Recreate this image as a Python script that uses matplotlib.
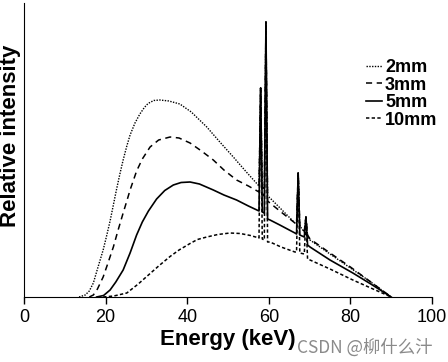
import matplotlib
matplotlib.use('Agg')
import matplotlib.pyplot as plt

plt.rcParams['font.family'] = ['Liberation Sans', 'DejaVu Sans']

# spectra (keV, relative intensity)
e_2mm = [13.5, 15, 16, 17, 18, 19.4, 20.3, 21.1, 22, 22.7, 23.5, 24.3, 25.2, 26, 27.2,
         28.4, 29.5, 30.4, 31.8, 33.3, 35.5, 38.2, 41, 44.8, 48, 51.3, 54.5, 57.6,
         58.0, 58.4, 58.9, 59.3, 59.7, 60.3, 63, 66.4, 66.8, 67.2, 67.6, 68.7, 69.1,
         69.5, 70.1, 75, 80, 85, 90]
i_2mm = [0, 2, 6, 14, 28, 47, 62, 76, 94, 108, 123, 137, 151, 162, 174,
         183, 189.5, 193.5, 196.5, 197, 196, 193, 185, 170, 155, 140, 125, 111,
         209, 110, 108, 275, 101, 99, 88, 74, 73, 124, 71, 65, 80,
         61, 57, 43, 29, 15, 0]

e_3mm = [16, 17, 18, 19.4, 20.5, 21.9, 23, 24.3, 25.2, 26, 27.6, 29, 30.9, 33, 35.8,
         38, 40.7, 43.5, 46.4, 49, 52.1, 55, 57.6, 58.0, 58.4, 58.9, 59.3, 59.7, 60.3,
         62.7, 66.4, 66.8, 67.2, 67.6, 68.7, 69.1, 69.5, 70.1, 75, 80, 85, 90]
i_3mm = [0, 2, 8, 20, 33, 50, 66, 84, 96, 107, 126, 138, 150, 157, 160,
         159, 154, 146, 137, 127, 117, 111, 105, 209, 103, 101, 275, 96, 94,
         86, 74, 73, 124, 71, 66, 80, 62, 58, 44, 30, 15, 0]

e_5mm = [17.8, 19.5, 21.1, 22.5, 24.3, 26, 27.6, 29, 30.5, 32.5, 34.5, 36.6, 38.5, 40.7,
         43, 46.4, 49, 52.1, 55, 57.6, 58.0, 58.4, 58.9, 59.3, 59.7, 60.3, 62.7, 66.4,
         66.8, 67.2, 67.6, 68.7, 69.1, 69.5, 70.1, 75, 80.6, 85, 90]
i_5mm = [0, 1.5, 7, 15, 27, 44, 62, 75, 86, 98, 106.5, 112, 114.5, 115,
         113, 107, 102, 97, 91, 86, 209, 85, 84, 275, 78, 77, 72, 64,
         63, 124, 62, 60, 80, 52, 50, 37, 24, 13, 0]

e_10mm = [19.4, 22, 25.2, 28, 30.5, 33, 35.8, 38, 40.7, 42.5, 44.8, 47.5, 50.5, 53, 55.5,
          57.6, 58.0, 58.4, 58.9, 59.3, 59.7, 60.3, 63, 66.4, 66.8, 67.2, 67.6, 68.7,
          69.1, 69.5, 70.1, 75, 80.6, 85, 90]
i_10mm = [0, 1, 4, 13, 22, 31, 40.5, 47, 53.5, 57.5, 60, 62.5, 64, 63.5, 61.5,
          59, 209, 58, 57, 275, 55, 55, 50, 45, 45, 124, 44, 43,
          80, 38, 37, 28, 17, 9, 0]

labels = ['2mm', '3mm', '5mm', '10mm']
xticks = [0, 20, 40, 60, 80, 100]

fig = plt.figure(figsize=(4.48, 3.62), dpi=100)
ax = fig.add_axes([24/448, 65/362, 408/448, 294/362])

ax.plot(e_2mm, i_2mm, color='black', lw=1.0, ls=(0, (1, 1)), label=labels[0])
ax.plot(e_3mm, i_3mm, color='black', lw=1.1, ls=(0, (4, 3)), label=labels[1])
ax.plot(e_5mm, i_5mm, color='black', lw=1.2, ls='-', label=labels[2])
ax.plot(e_10mm, i_10mm, color='black', lw=1.1, ls=(0, (2.2, 1.5)), label=labels[3])

ax.set_xlim(0, 100)
ax.set_ylim(0, 294)
ax.set_xticks(xticks)
ax.set_yticks([])
ax.tick_params(axis='x', direction='out', length=5, width=1, labelsize=13, pad=4)
ax.spines['top'].set_visible(False)
ax.spines['right'].set_visible(False)
ax.set_xlabel('Energy (keV)', fontsize=16, fontweight='bold', labelpad=2)
ax.set_ylabel('Relative intensity', fontsize=16, fontweight='bold')
ax.yaxis.set_label_coords(-0.007, 0.549)

ax.legend(loc='upper left', bbox_to_anchor=(366/448, 1 - 59/362),
          bbox_transform=fig.transFigure, frameon=False, borderpad=0,
          borderaxespad=0, handlelength=0.9, handletextpad=0.15,
          labelspacing=0.03, prop={'weight': 'bold', 'size': 13})

fig.text(432/448, 1 - 348/362, 'CSDN @柳什么汁', ha='right', va='center',
         fontsize=12.5, color='#8a8a8a', family=['Noto Sans CJK SC', 'DejaVu Sans'])

fig.savefig('out.png', dpi=100)
